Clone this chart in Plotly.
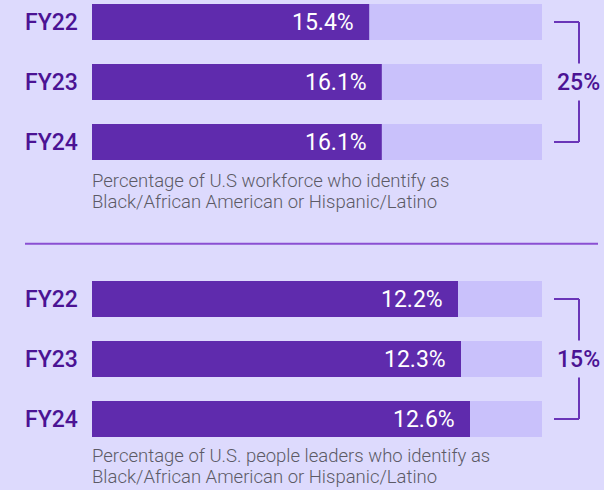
import plotly.graph_objects as go

# ---- data ----
years = ["FY22", "FY23", "FY24"]
workforce_pct = [15.4, 16.1, 16.1]
leaders_pct = [12.2, 12.3, 12.6]
workforce_goal = 25
leaders_goal = 15
workforce_caption = ["Percentage of U.S workforce who identify as",
                     "Black/African American or Hispanic/Latino"]
leaders_caption = ["Percentage of U.S. people leaders who identify as",
                   "Black/African American or Hispanic/Latino"]

# ---- styling ----
W, H = 604, 490
BG = "#dddafd"
BAR = "#5f2bad"
TRACK = "#c9c1fb"
LABEL = "#4b1394"
CAPTION = "#5c5a66"
RULE = "#8a4fd2"
FONT = "Roboto"

bar_left, bar_right = 92, 542
x_dom = [bar_left / W, bar_right / W]

fig = go.Figure()

panels = [
    # (values, goal, caption lines, x axis, y axis, first bar centre px, caption line centres px)
    (workforce_pct, workforce_goal, workforce_caption, "x", "y", 22, (181, 202)),
    (leaders_pct, leaders_goal, leaders_caption, "x2", "y2", 299, (456, 477)),
]

row_gap = 60  # px between bar centres
ypos = list(range(len(years)))

for vals, goal, caption, xa, ya, first_c, cap_y in panels:
    # goal track behind the bars
    fig.add_trace(go.Bar(
        x=[goal] * len(years), y=ypos, orientation="h",
        marker=dict(color=TRACK, line=dict(width=0)), width=0.6,
        xaxis=xa, yaxis=ya, hoverinfo="skip", showlegend=False,
    ))
    fig.add_trace(go.Bar(
        x=vals, y=ypos, orientation="h",
        marker=dict(color=BAR, line=dict(width=0)), width=0.6,
        xaxis=xa, yaxis=ya, hoverinfo="skip", showlegend=False,
    ))
    for i, (yr, v) in enumerate(zip(years, vals)):
        fig.add_annotation(
            x=v, y=i, xref=xa, yref=ya, text=f"{v:.1f}%",
            xanchor="right", yanchor="middle", xshift=-13, showarrow=False,
            font=dict(family=FONT, size=23, color="white", weight=400),
        )
        fig.add_annotation(
            x=0, y=i, xref=xa, yref=ya, text=yr,
            xanchor="right", yanchor="middle", xshift=-12, showarrow=False,
            font=dict(family=FONT, size=23, color=LABEL, weight=500),
        )

    # bracket pointing at the goal value
    bx0, bx1 = 554 / W, 579 / W
    line = dict(color="#6a35b8", width=2)
    for yy in (0, 2):
        fig.add_shape(type="line", xref="paper", yref=ya,
                      x0=bx0, x1=bx1, y0=yy, y1=yy, line=line)
    fig.add_shape(type="line", xref="paper", yref=ya,
                  x0=bx1, x1=bx1, y0=0, y1=0.69, line=line)
    fig.add_shape(type="line", xref="paper", yref=ya,
                  x0=bx1, x1=bx1, y0=1.31, y1=2, line=line)
    fig.add_annotation(
        x=578 / W, y=1, xref="paper", yref=ya, text=f"{goal}%",
        xanchor="center", yanchor="middle", showarrow=False,
        font=dict(family=FONT, size=23, color=LABEL, weight=500),
    )

    # caption under the bars, one annotation per line
    for txt, cy in zip(caption, cap_y):
        fig.add_annotation(
            x=bar_left / W, y=1 - cy / H, xref="paper", yref="paper", text=txt,
            xanchor="left", yanchor="middle", align="left", showarrow=False,
            xshift=-2,
            font=dict(family=FONT, size=18.5, color=CAPTION, weight=300),
        )

# divider between the two panels
fig.add_shape(type="line", xref="paper", yref="paper",
              x0=25 / W, x1=598 / W, y0=1 - 243.7 / H, y1=1 - 243.7 / H,
              line=dict(color=RULE, width=2))

half = 245
top_range = [(half - 22) / row_gap, -22 / row_gap]
bot_range = [(H - 299) / row_gap, (half - 299) / row_gap]

axis_common = dict(showgrid=False, zeroline=False, showticklabels=False,
                   showline=False, ticks="", fixedrange=True)

fig.update_layout(
    width=W, height=H,
    margin=dict(l=0, r=0, t=0, b=0),
    paper_bgcolor=BG, plot_bgcolor=BG,
    barmode="overlay",
    xaxis=dict(domain=x_dom, range=[0, workforce_goal], anchor="y", **axis_common),
    yaxis=dict(domain=[1 - half / H, 1], range=top_range, anchor="x", **axis_common),
    xaxis2=dict(domain=x_dom, range=[0, leaders_goal], anchor="y2", **axis_common),
    yaxis2=dict(domain=[0, 1 - half / H], range=bot_range, anchor="x2", **axis_common),
)

fig.write_html("out.html")
